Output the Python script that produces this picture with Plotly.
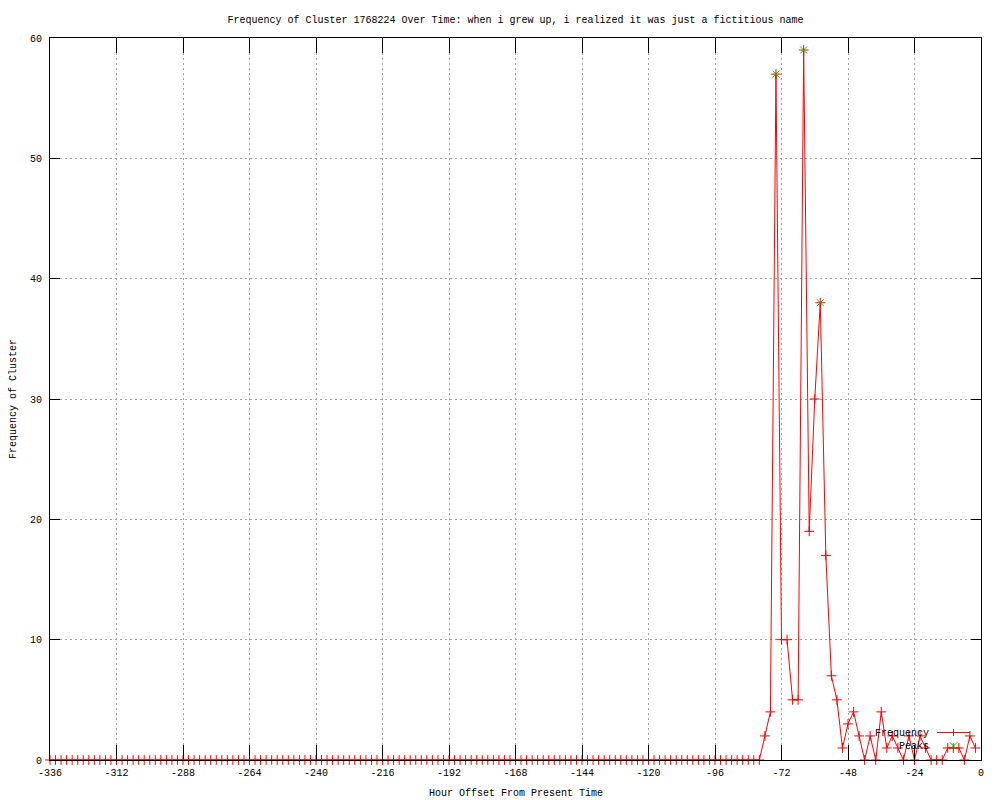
import plotly.graph_objects as go

# ---------------- data ----------------
hours = list(range(-336, 0, 2))  # one sample every 2 hours, -336 .. -2

frequency = [
    0, 0, 0, 0, 0, 0, 0, 0, 0, 0, 0, 0, 0, 0, 0, 0,
    0, 0, 0, 0, 0, 0, 0, 0, 0, 0, 0, 0, 0, 0, 0, 0,
    0, 0, 0, 0, 0, 0, 0, 0, 0, 0, 0, 0, 0, 0, 0, 0,
    0, 0, 0, 0, 0, 0, 0, 0, 0, 0, 0, 0, 0, 0, 0, 0,
    0, 0, 0, 0, 0, 0, 0, 0, 0, 0, 0, 0, 0, 0, 0, 0,
    0, 0, 0, 0, 0, 0, 0, 0, 0, 0, 0, 0, 0, 0, 0, 0,
    0, 0, 0, 0, 0, 0, 0, 0, 0, 0, 0, 0, 0, 0, 0, 0,
    0, 0, 0, 0, 0, 0, 0, 0, 0, 0, 0, 0, 0, 0, 0, 0,
    # -80 .. -2
    0, 2, 4, 57, 10, 10, 5, 5, 59, 19, 30, 38, 17, 7, 5, 1, 3, 4, 2, 0,
    2, 0, 4, 1, 2, 1, 0, 2, 0, 2, 1, 0, 0, 0, 1, 1, 1, 0, 2, 1,
]

peak_hours = [-74, -64, -58]
peak_values = [57, 59, 38]

x_ticks = [-336, -312, -288, -264, -240, -216, -192, -168, -144, -120, -96, -72, -48, -24, 0]
y_ticks = [0, 10, 20, 30, 40, 50, 60]

title_text = "Frequency of Cluster 1768224 Over Time: when i grew up, i realized it was just a fictitious name"
x_title = "Hour Offset From Present Time"
y_title = "Frequency of Cluster"

# ---------------- style ----------------
FONT = "Liberation Mono, DejaVu Sans Mono, monospace"
FS = 10
RED = "#ff0000"
GREEN = "#00c000"
GRID = "#a0a0a0"

OFF = 8  # the page body margin shifts the figure by 8 px
W, H = 1000 - OFF, 800 - OFF
ML, MR, MT, MB = 50 - OFF, 19, 38 - OFF, 40
PW, PH = W - ML - MR, H - MT - MB


def px_x(p):  # page pixel -> paper fraction
    return (p - OFF - ML) / PW


def px_y(p):
    return (H - MB - (p - OFF)) / PH


fig = go.Figure()

fig.add_trace(go.Scatter(
    x=hours, y=frequency, mode="lines+markers", name="Frequency",
    line=dict(color=RED, width=1),
    marker=dict(symbol="cross-thin", size=7, line=dict(color=RED, width=1), color=RED),
    cliponaxis=False, showlegend=False,
))
fig.add_trace(go.Scatter(
    x=peak_hours, y=peak_values, mode="markers", name="Peaks",
    marker=dict(symbol="x-thin", size=7, line=dict(color=GREEN, width=1), color=GREEN),
    cliponaxis=False, showlegend=False,
))

axis_common = dict(
    showline=True, linecolor="black", linewidth=1, mirror="ticks",
    ticks="inside", tickcolor="black", tickwidth=1,
    showgrid=True, gridcolor=GRID, gridwidth=1, griddash="2px,3px",
    zeroline=False, automargin=False,
    tickfont=dict(family=FONT, size=FS, color="black"),
)

fig.update_xaxes(
    range=[-336, 0], tickmode="array", tickvals=x_ticks,
    ticktext=[str(v) for v in x_ticks], ticklen=15, ticklabelstandoff=3, **axis_common,
)
fig.update_yaxes(
    range=[0, 60], tickmode="array", tickvals=y_ticks,
    ticktext=[str(v) for v in y_ticks], ticklen=10, ticklabelstandoff=5, **axis_common,
)

# custom gnuplot-style key (text left, sample right)
shapes = [
    dict(type="line", xref="paper", yref="paper",
         x0=px_x(937), x1=px_x(970), y0=px_y(732.5), y1=px_y(732.5),
         line=dict(color=RED, width=1)),
    dict(type="path", xref="paper", yref="paper", xsizemode="pixel", ysizemode="pixel",
         xanchor=px_x(953.5), yanchor=px_y(732.5),
         path="M -3.5 0 L 3.5 0 M 0 -3.5 L 0 3.5", line=dict(color=RED, width=1)),
    dict(type="path", xref="paper", yref="paper", xsizemode="pixel", ysizemode="pixel",
         xanchor=px_x(953.5), yanchor=px_y(746),
         path="M -3.5 -3.5 L 3.5 3.5 M -3.5 3.5 L 3.5 -3.5", line=dict(color=GREEN, width=1)),
]

annotations = [
    dict(text="Frequency", xref="paper", yref="paper", x=px_x(931), y=px_y(733),
         xanchor="right", yanchor="middle", showarrow=False,
         font=dict(family=FONT, size=FS, color="black")),
    dict(text="Peaks", xref="paper", yref="paper", x=px_x(931), y=px_y(746),
         xanchor="right", yanchor="middle", showarrow=False,
         font=dict(family=FONT, size=FS, color="black")),
    dict(text=x_title, xref="paper", yref="paper", x=0.5, y=0, yshift=-33,
         xanchor="center", yanchor="middle", showarrow=False,
         font=dict(family=FONT, size=FS, color="black")),
    dict(text=y_title, xref="paper", yref="paper", x=0, y=0.5, xshift=-37,
         xanchor="center", yanchor="middle", textangle=-90, showarrow=False,
         font=dict(family=FONT, size=FS, color="black")),
]

fig.update_layout(
    width=W, height=H,
    margin=dict(l=ML, r=MR, t=MT, b=MB, pad=0, autoexpand=False),
    paper_bgcolor="white", plot_bgcolor="white",
    title=dict(text=title_text, x=0.5, xref="paper", y=1 - (19 - OFF) / H, yref="container",
               xanchor="center", yanchor="middle",
               font=dict(family=FONT, size=FS, color="black")),
    shapes=shapes, annotations=annotations,
    showlegend=False,
)

fig.write_html("out.html")
